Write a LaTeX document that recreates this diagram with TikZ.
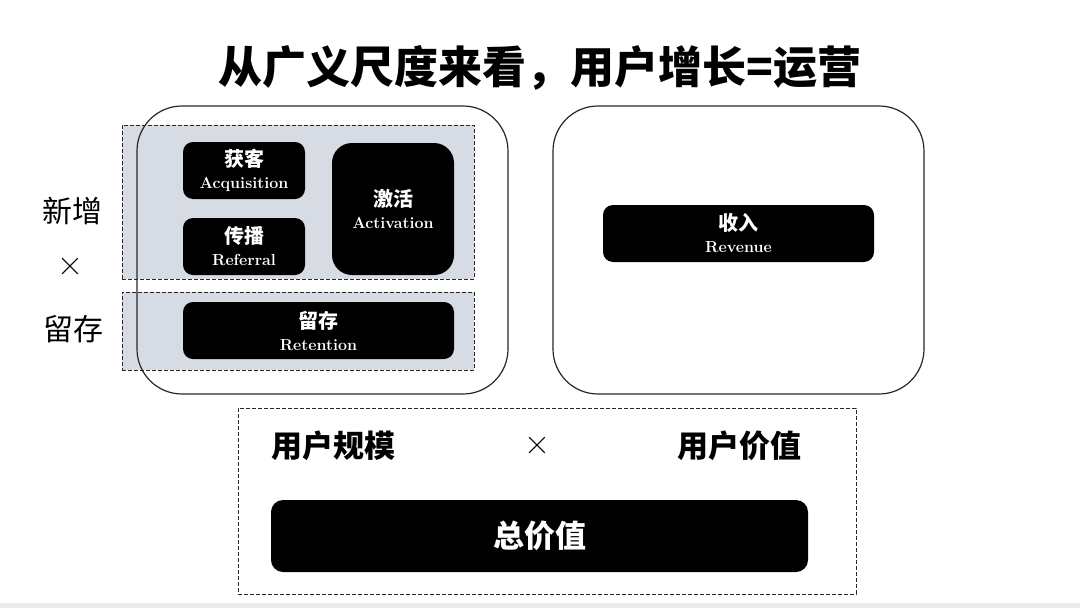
\documentclass[tikz,border=0pt]{standalone}
\usepackage{fontspec}
\newfontfamily\cjk{Noto Sans CJK SC}
\definecolor{zonegray}{RGB}{214,219,228}
\definecolor{stripgray}{RGB}{235,235,235}
\definecolor{edgegray}{RGB}{40,40,40}
\newcommand{\entag}[1]{{\rmfamily\fontsize{16}{20}\selectfont #1}}

\tikzset{
	heading/.style={font=\cjk\bfseries\fontsize{44}{50}\selectfont},
	phase/.style={draw=edgegray, line width=1.2pt, rounded corners=45pt, minimum width=371pt, minimum height=288pt},
	zone/.style={draw=edgegray, dash pattern=on 4pt off 2pt, line width=0.8pt, fill=zonegray},
	stage/.style={fill=black, text=white, rounded corners=10pt, align=center, inner sep=0pt, font=\cjk\bfseries\fontsize{20}{22}\selectfont},
	side/.style={font=\cjk\fontsize{30}{34}\selectfont},
	metric/.style={font=\cjk\bfseries\fontsize{31}{36}\selectfont},
	cross/.style={font=\rmfamily\fontsize{36}{40}\selectfont},
	total/.style={fill=black, text=white, rounded corners=12pt, font=\cjk\bfseries\fontsize{31}{36}\selectfont},
}

\begin{document}
\begin{tikzpicture}[x=1pt,y=-1pt]
	\useasboundingbox (0,0) rectangle (1080,608);
	\fill[white] (0,0) rectangle (1080,608);
	\fill[stripgray] (0,603) rectangle (1080,608);
	
	\node[heading] (title) at (540,68) {从广义尺度来看，用户增长=运营};
	
	% gray zones go under the outlines
	\node[zone, minimum width=352pt, minimum height=154pt] (newzone) at (298,202) {};
	\node[zone, minimum width=352pt, minimum height=78pt] (keepzone) at (298,331) {};
	\node[phase] (scale) at (322.5,250) {};
	\node[phase] (value) at (738.5,250) {};
	
	\node[stage, minimum width=122pt, minimum height=57pt] (acq) at (244,170.5) {获客\\\entag{Acquisition}};
	\node[stage, minimum width=122pt, minimum height=57pt] (ref) at (244,246.5) {传播\\\entag{Referral}};
	\node[stage, minimum width=122pt, minimum height=132pt, rounded corners=20pt] (act) at (393,209) {激活\\\entag{Activation}};
	\node[stage, minimum width=271pt, minimum height=57pt] (ret) at (318.5,330.5) {留存\\\entag{Retention}};
	\node[stage, minimum width=271pt, minimum height=57pt] (rev) at (738.5,233.5) {收入\\\entag{Revenue}};
	
	\node[side] (new) at (72,211) {新增};
	\node[cross] (times1) at (70,267) {×};
	\node[side] (keep) at (73,329) {留存};
	
	\node[zone, fill=none, minimum width=618pt, minimum height=186pt] (sum) at (547,501) {};
	\node[metric] (users) at (333,446) {用户规模};
	\node[cross] (times2) at (537,446) {×};
	\node[metric] (worth) at (739,446) {用户价值};
	\node[total, minimum width=537pt, minimum height=72pt] (all) at (539.5,536) {总价值};
\end{tikzpicture}
\end{document}
